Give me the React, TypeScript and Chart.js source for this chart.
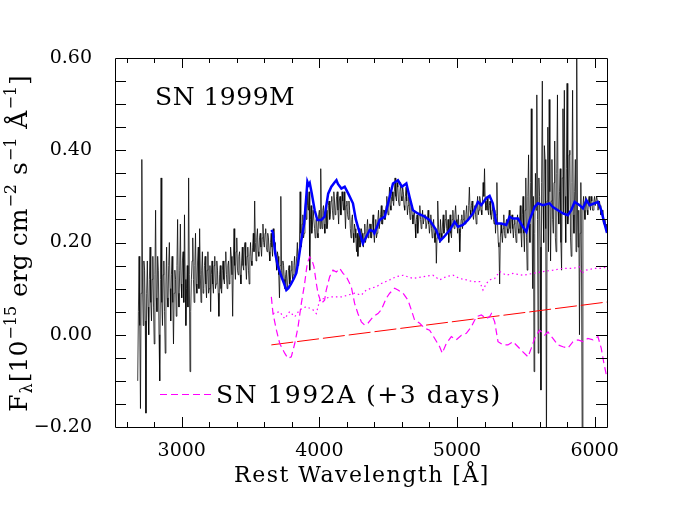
import React, { useEffect, useRef } from "react";
import { Chart, registerables } from "chart.js";

Chart.register(...registerables);

// ---------- axis settings ----------
const xMin = 2515;
const xMax = 6090;
const yMin = -0.2;
const yMax = 0.6;
const xTickValues = [3000, 4000, 5000, 6000];
const yTickValues = [-0.2, 0, 0.2, 0.4, 0.6];

// ---------- SN 1999M observed spectrum (5 Å grid) ----------
const sn1999mStart = 2680;
const sn1999mStep = 5;
const sn1999mFlux = [
  -0.10, 0.05, 0.17, 0.02, -0.16, 0.09, 0.38, 0.11, 0.02, 0.16, 0.14, 0.03, -0.17, 0.09, 0.16, 0.06, 0.0, 0.12, 0.19, 0.07,
  0.03, 0.12, 0.17, 0.06, -0.02, 0.13, 0.27, 0.08, 0.05, 0.17, 0.14, 0.0, -0.10, 0.12, 0.34, 0.07, 0.02, 0.13, 0.16, 0.05,
  -0.04, 0.11, 0.19, 0.08, 0.06, 0.15, 0.20, 0.10, 0.03, 0.13, 0.17, 0.07, -0.02, 0.09, 0.14, 0.12, 0.04, 0.15, 0.25, 0.09,
  0.06, 0.14, 0.24, 0.11, 0.08, 0.16, 0.18, 0.07, 0.26, 0.12, 0.02, 0.10, 0.15, 0.06, 0.34, 0.13, -0.08, 0.05, 0.12, 0.16,
  0.21, 0.12, 0.07, 0.15, 0.22, 0.11, 0.09, 0.16, 0.19, 0.10, 0.23, 0.13, 0.07, 0.14, 0.18, 0.09, 0.10, 0.15, 0.17, 0.11,
  0.08, 0.14, 0.18, 0.09, 0.10, 0.15, 0.05, 0.13, 0.16, 0.11, 0.09, 0.15, 0.17, 0.10, 0.11, 0.16, 0.14, 0.09, 0.04, 0.13,
  0.15, 0.10, 0.09, 0.14, 0.16, 0.12, 0.11, 0.16, 0.18, 0.13, 0.10, 0.15, 0.16, 0.11, 0.12, 0.19, 0.17, 0.13, 0.04, 0.16,
  0.23, 0.15, 0.12, 0.18, 0.21, 0.14, 0.13, 0.17, 0.18, 0.13, 0.11, 0.16, 0.19, 0.15, 0.14, 0.19, 0.20, 0.15, 0.12, 0.17,
  0.19, 0.14, 0.11, 0.17, 0.20, 0.16, 0.15, 0.19, 0.22, 0.18, 0.29, 0.20, 0.16, 0.21, 0.23, 0.18, 0.17, 0.21, 0.22, 0.19,
  0.17, 0.21, 0.24, 0.20, 0.19, 0.22, 0.23, 0.19, 0.18, 0.22, 0.21, 0.18, 0.16, 0.20, 0.22, 0.19, 0.17, 0.23, 0.21, 0.18,
  0.20, 0.16, 0.14, 0.18, 0.17, 0.13, 0.08, 0.15, 0.30, 0.14, 0.12, 0.16, 0.15, 0.12, 0.10, 0.13, 0.14, 0.10, 0.11, 0.14,
  0.15, 0.11, 0.12, 0.14, 0.16, 0.12, 0.13, 0.15, 0.17, 0.13, 0.14, 0.17, 0.20, 0.15, 0.16, 0.19, 0.31, 0.22, 0.19, 0.24,
  0.26, 0.21, 0.22, 0.27, 0.29, 0.25, 0.33, 0.28, 0.27, 0.31, 0.14, 0.25, 0.28, 0.22, 0.24, 0.27, 0.27, 0.23, 0.21, 0.25,
  0.25, 0.22, 0.21, 0.26, 0.27, 0.23, 0.36, 0.25, 0.23, 0.27, 0.28, 0.24, 0.22, 0.26, 0.27, 0.23, 0.24, 0.28, 0.29, 0.25,
  0.26, 0.29, 0.30, 0.27, 0.25, 0.31, 0.29, 0.26, 0.27, 0.30, 0.31, 0.27, 0.24, 0.29, 0.30, 0.26, 0.26, 0.31, 0.29, 0.27,
  0.31, 0.27, 0.23, 0.28, 0.29, 0.26, 0.25, 0.29, 0.27, 0.23, 0.21, 0.25, 0.26, 0.22, 0.20, 0.24, 0.23, 0.21, 0.18, 0.22,
  0.17, 0.21, 0.23, 0.19, 0.20, 0.23, 0.22, 0.20, 0.19, 0.22, 0.24, 0.20, 0.21, 0.23, 0.25, 0.21, 0.22, 0.24, 0.24, 0.21,
  0.21, 0.24, 0.26, 0.22, 0.20, 0.23, 0.25, 0.21, 0.22, 0.25, 0.27, 0.23, 0.23, 0.26, 0.28, 0.24, 0.24, 0.27, 0.27, 0.25,
  0.25, 0.28, 0.30, 0.27, 0.26, 0.29, 0.32, 0.28, 0.27, 0.30, 0.31, 0.29, 0.28, 0.31, 0.34, 0.30, 0.29, 0.33, 0.32, 0.29,
  0.28, 0.31, 0.33, 0.30, 0.29, 0.32, 0.31, 0.28, 0.27, 0.30, 0.32, 0.29, 0.26, 0.28, 0.30, 0.27, 0.25, 0.29, 0.28, 0.26,
  0.24, 0.26, 0.27, 0.24, 0.21, 0.25, 0.26, 0.22, 0.24, 0.26, 0.28, 0.25, 0.23, 0.25, 0.27, 0.24, 0.24, 0.26, 0.26, 0.23,
  0.23, 0.25, 0.27, 0.24, 0.22, 0.24, 0.26, 0.23, 0.21, 0.24, 0.25, 0.22, 0.20, 0.23, 0.155, 0.21, 0.29, 0.24, 0.22, 0.20,
  0.25, 0.22, 0.21, 0.24, 0.26, 0.22, 0.23, 0.25, 0.27, 0.23, 0.22, 0.25, 0.20, 0.23, 0.26, 0.22, 0.21, 0.25, 0.27, 0.24,
  0.23, 0.26, 0.28, 0.25, 0.24, 0.22, 0.26, 0.23, 0.18, 0.22, 0.25, 0.26, 0.23, 0.25, 0.27, 0.24, 0.24, 0.26, 0.28, 0.25,
  0.25, 0.28, 0.32, 0.27, 0.26, 0.28, 0.29, 0.26, 0.25, 0.27, 0.28, 0.26, 0.24, 0.28, 0.30, 0.26, 0.27, 0.30, 0.29, 0.27,
  0.26, 0.29, 0.33, 0.30, 0.36, 0.29, 0.27, 0.28, 0.30, 0.27, 0.26, 0.28, 0.29, 0.26, 0.25, 0.27, 0.28, 0.25, 0.24, 0.27,
  0.22, 0.26, 0.33, 0.24, 0.20, 0.19, 0.11, 0.21, 0.24, 0.22, 0.20, 0.23, 0.26, 0.22, 0.21, 0.24, 0.25, 0.23, 0.22, 0.25,
  0.27, 0.23, 0.22, 0.25, 0.26, 0.23, 0.21, 0.24, 0.25, 0.22, 0.20, 0.24, 0.26, 0.23, 0.22, 0.25, 0.28, 0.22, 0.19, 0.26,
  0.30, 0.22, 0.18, 0.27, 0.34, 0.21, 0.14, 0.30, 0.39, 0.24, 0.20, 0.33, 0.49, 0.26, 0.10, 0.30, -0.08, 0.22, 0.35, 0.27,
  0.52, 0.25, -0.04, 0.34, 0.30, 0.19, -0.12, 0.33, 0.55, 0.28, 0.20, 0.41, 0.38, 0.23, -0.25, 0.29, 0.45, 0.18, 0.51, 0.31,
  0.16, 0.29, 0.38, 0.25, 0.22, 0.33, 0.42, 0.21, 0.18, 0.35, 0.52, 0.27, 0.24, 0.31, 0.36, 0.20, 0.14, 0.34, 0.49, 0.26,
  0.53, 0.30, 0.20, 0.36, 0.545, 0.24, 0.26, 0.39, 0.40, 0.21, 0.17, 0.33, 0.53, 0.26, 0.22, 0.31, 0.38, 0.18, 0.62, 0.28,
  0.19, 0.27, 0.0, 0.22, 0.33, 0.14, -0.25, 0.28, 0.30, 0.27, 0.25, 0.30, 0.29, 0.27, 0.26, 0.29, 0.30, 0.28, 0.27, 0.30,
  0.29, 0.27, 0.27, 0.29, 0.30, 0.28, 0.28, 0.30, 0.29, 0.27, 0.27, 0.29, 0.28, 0.26, 0.26, 0.27, 0.25, 0.24, 0.24, 0.25,
  0.23, 0.24, 0.22,
];

// ---------- smoothed SN 1999M (blue) ----------
const smoothWave = [
  3651, 3662, 3680, 3700, 3722, 3745, 3760, 3775, 3795, 3815, 3833, 3850, 3869, 3890, 3905, 3913,
  3922, 3930, 3945, 3957, 3966, 3985, 4014, 4038, 4064, 4087, 4110, 4124, 4135, 4160, 4184, 4210,
  4244, 4265, 4280, 4316, 4340, 4366, 4390, 4400, 4420, 4438, 4475, 4511, 4535, 4571, 4600, 4632,
  4655, 4680, 4715, 4765, 4800, 4849, 4878, 4905, 4947, 4983, 5007, 5043, 5080, 5116, 5152, 5176,
  5212, 5237, 5260, 5286, 5322, 5358, 5382, 5406, 5443, 5479, 5504, 5528, 5564, 5588, 5624, 5673,
  5697, 5733, 5770, 5806, 5830, 5855, 5891, 5915, 5940, 5964, 6000, 6024, 6048, 6072, 6090,
];
const smoothFlux = [
  0.227, 0.222, 0.175, 0.147, 0.128, 0.110, 0.097, 0.101, 0.111, 0.122, 0.134, 0.165, 0.205, 0.242, 0.300, 0.332,
  0.325, 0.329, 0.306, 0.285, 0.270, 0.249, 0.249, 0.256, 0.306, 0.321, 0.330, 0.335, 0.327, 0.317, 0.321, 0.306,
  0.285, 0.250, 0.234, 0.198, 0.212, 0.227, 0.225, 0.220, 0.235, 0.249, 0.256, 0.299, 0.328, 0.335, 0.321, 0.328,
  0.299, 0.270, 0.263, 0.256, 0.249, 0.227, 0.204, 0.212, 0.227, 0.245, 0.234, 0.238, 0.249, 0.263, 0.288, 0.281,
  0.296, 0.301, 0.285, 0.241, 0.241, 0.238, 0.256, 0.252, 0.252, 0.234, 0.223, 0.249, 0.277, 0.285, 0.281, 0.285,
  0.277, 0.270, 0.263, 0.259, 0.270, 0.288, 0.281, 0.274, 0.292, 0.281, 0.285, 0.288, 0.270, 0.241, 0.221,
];

// ---------- SN 1992A (+3 days), magenta dashed ----------
const sn1992aWave = [
  3651, 3663, 3688, 3712, 3748, 3772, 3796, 3821, 3845, 3869, 3893, 3912, 3930, 3946, 3961, 3978,
  3990, 4014, 4038, 4050, 4075, 4099, 4124, 4148, 4172, 4196, 4232, 4256, 4280, 4305, 4329, 4353,
  4390, 4426, 4450, 4486, 4511, 4547, 4571, 4608, 4644, 4668, 4692, 4729, 4765, 4801, 4838, 4874,
  4893, 4922, 4959, 4995, 5032, 5068, 5104, 5141, 5177, 5213, 5237, 5250, 5274, 5298, 5334, 5370,
  5407, 5443, 5479, 5516, 5540, 5564, 5600, 5637, 5661, 5697, 5733, 5770, 5806, 5843, 5879, 5915,
  5951, 5988, 6024, 6048, 6065, 6085,
];
const sn1992aFlux = [
  0.082, 0.046, 0.010, -0.019, -0.040, -0.051, -0.048, -0.019, 0.017, 0.068, 0.111, 0.155, 0.169, 0.162, 0.147, 0.111,
  0.090, 0.068, 0.075, 0.097, 0.126, 0.140, 0.136, 0.144, 0.133, 0.126, 0.104, 0.068, 0.046, 0.028, 0.021, 0.025,
  0.039, 0.046, 0.054, 0.079, 0.090, 0.101, 0.097, 0.090, 0.075, 0.054, 0.032, 0.025, 0.014, 0.010, -0.008, -0.026,
  -0.040, -0.019, -0.004, -0.011, -0.001, 0.003, 0.017, 0.039, 0.043, 0.035, 0.039, 0.046, 0.028, -0.015, -0.022, -0.022,
  -0.015, -0.026, -0.037, -0.048, -0.029, -0.008, 0.010, -0.001, 0.006, -0.008, -0.022, -0.026, -0.029, -0.015, -0.011, -0.015,
  -0.008, -0.011, -0.004, -0.029, -0.058, -0.087,
];

// ---------- magenta dotted comparison ----------
const dottedWave = [
  3663, 3712, 3748, 3784, 3821, 3857, 3905, 3954, 3978, 4002, 4038, 4087, 4160, 4208, 4256, 4305,
  4341, 4378, 4414, 4450, 4511, 4559, 4608, 4680, 4753, 4825, 4874, 4922, 4971, 5019, 5068, 5116,
  5165, 5189, 5213, 5237, 5274, 5310, 5358, 5407, 5479, 5552, 5624, 5697, 5770, 5843, 5891, 5903,
  5940, 6000, 6048, 6090,
];
const dottedFlux = [
  0.046, 0.050, 0.035, 0.050, 0.039, 0.054, 0.061, 0.054, 0.046, 0.075, 0.079, 0.082, 0.082, 0.086, 0.090, 0.086,
  0.097, 0.101, 0.104, 0.111, 0.119, 0.126, 0.129, 0.122, 0.126, 0.129, 0.119, 0.126, 0.129, 0.122, 0.119, 0.115,
  0.115, 0.097, 0.111, 0.119, 0.122, 0.137, 0.129, 0.133, 0.129, 0.133, 0.137, 0.140, 0.144, 0.144, 0.147, 0.133,
  0.140, 0.144, 0.144, 0.147,
];

// ---------- red long-dashed line ----------
const redWave = [3651, 6090];
const redFlux = [-0.022, 0.071];

const pairs = (xs: number[], ys: number[]) => xs.map((x, i) => ({ x, y: ys[i] }));

const FONT = "'DejaVu Serif', 'Liberation Serif', serif";

const framePlugin = {
  id: "frameAndText",
  afterDraw(chart: any) {
    const { ctx, chartArea: a, scales } = chart;
    const xs = scales.x;
    const ys = scales.y;
    ctx.save();
    ctx.strokeStyle = "#000";
    ctx.lineWidth = 1;
    // frame
    ctx.beginPath();
    ctx.rect(Math.round(a.left) + 0.5, Math.round(a.top) + 0.5, Math.round(a.right - a.left), Math.round(a.bottom - a.top));
    ctx.stroke();
    // x ticks (inside, bottom & top)
    ctx.beginPath();
    for (let v = 2600; v <= 6000; v += 200) {
      const px = Math.round(xs.getPixelForValue(v)) + 0.5;
      const len = v % 1000 === 0 ? 10 : 5;
      ctx.moveTo(px, a.bottom);
      ctx.lineTo(px, a.bottom - len);
      ctx.moveTo(px, a.top);
      ctx.lineTo(px, a.top + len);
    }
    // y ticks (inside, left & right)
    for (let k = -3; k <= 11; k++) {
      const py = Math.round(ys.getPixelForValue(k * 0.05)) + 0.5;
      const len = 11;
      ctx.moveTo(a.left, py);
      ctx.lineTo(a.left + len, py);
      ctx.moveTo(a.right, py);
      ctx.lineTo(a.right - len, py);
    }
    ctx.stroke();

    ctx.fillStyle = "#000";
    ctx.textBaseline = "alphabetic";
    ctx.textAlign = "left";
    // object label
    ctx.font = `25px ${FONT}`;
    (ctx as any).letterSpacing = "0.5px";
    ctx.fillText("SN 1999M", 155, 105);

    // legend
    ctx.save();
    ctx.strokeStyle = "#ff00ff";
    ctx.lineWidth = 1;
    ctx.setLineDash([7, 4]);
    ctx.beginPath();
    ctx.moveTo(160, 394.5);
    ctx.lineTo(211, 394.5);
    ctx.stroke();
    ctx.restore();
    ctx.font = `25px ${FONT}`;
    (ctx as any).letterSpacing = "1.5px";
    ctx.fillText("SN 1992A (+3 days)", 216, 403);

    // x title
    ctx.font = `22px ${FONT}`;
    (ctx as any).letterSpacing = "1.5px";
    ctx.textAlign = "center";
    ctx.fillText("Rest Wavelength [Å]", 362, 482);
    (ctx as any).letterSpacing = "0px";

    // y title (rotated rich text)
    const main = 25;
    const small = 16;
    const pieces: { t: string; size: number; dy: number }[] = [
      { t: "F", size: main, dy: 0 },
      { t: "λ", size: small, dy: 5 },
      { t: "[10", size: main, dy: 0 },
      { t: "−15", size: small, dy: -11 },
      { t: " erg cm", size: main, dy: 0 },
      { t: "−2", size: small, dy: -11 },
      { t: " s", size: main, dy: 0 },
      { t: "−1", size: small, dy: -11 },
      { t: " Å", size: main, dy: 0 },
      { t: "−1", size: small, dy: -11 },
      { t: "]", size: main, dy: 0 },
    ];
    ctx.textAlign = "left";
    let total = 0;
    const widths = pieces.map((p) => {
      ctx.font = `${p.size}px ${FONT}`;
      const w = ctx.measureText(p.t).width + 1;
      total += w;
      return w;
    });
    ctx.save();
    ctx.translate(27, 243);
    ctx.rotate(-Math.PI / 2);
    let cx = -total / 2;
    pieces.forEach((p, i) => {
      ctx.font = `${p.size}px ${FONT}`;
      ctx.fillText(p.t, cx, p.dy);
      cx += widths[i];
    });
    ctx.restore();
    ctx.restore();
  },
};

export default function App() {
  const ref = useRef<HTMLCanvasElement | null>(null);
  useEffect(() => {
    const canvas = ref.current;
    if (!canvas) return;
    const chart = new Chart(canvas, {
      type: "line",
      data: {
        datasets: [
          {
            label: "SN 1999M",
            data: sn1999mFlux.map((v, i) => ({ x: sn1999mStart + i * sn1999mStep, y: v })),
            borderColor: "rgba(0,0,0,0.85)",
            borderWidth: 0.9,
            pointRadius: 0,
            order: 5,
          },
          {
            label: "smoothed",
            data: pairs(smoothWave, smoothFlux),
            borderColor: "#0000ff",
            borderWidth: 2.5,
            pointRadius: 0,
            order: 0,
          },
          {
            label: "SN 1992A (+3 days)",
            data: pairs(sn1992aWave, sn1992aFlux),
            borderColor: "#ff00ff",
            borderWidth: 1.2,
            borderDash: [7, 4],
            pointRadius: 0,
            order: 1,
          },
          {
            label: "dotted",
            data: pairs(dottedWave, dottedFlux),
            borderColor: "#ff00ff",
            borderWidth: 1.2,
            borderDash: [1.5, 3],
            pointRadius: 0,
            order: 2,
          },
          {
            label: "continuum",
            data: pairs(redWave, redFlux),
            borderColor: "#ff0000",
            borderWidth: 1,
            borderDash: [22, 4],
            pointRadius: 0,
            order: 3,
          },
        ],
      },
      options: {
        animation: false,
        responsive: false,
        devicePixelRatio: 1,
        layout: { padding: { left: 0, top: 58, right: 87, bottom: 0 } },
        plugins: { legend: { display: false }, tooltip: { enabled: false } },
        elements: { line: { tension: 0, fill: false }, point: { radius: 0 } },
        scales: {
          x: {
            type: "linear",
            min: xMin,
            max: xMax,
            grid: { display: false },
            border: { display: false },
            afterFit: (s: any) => {
              s.height = 91;
            },
            afterBuildTicks: (s: any) => {
              s.ticks = xTickValues.map((v) => ({ value: v }));
            },
            ticks: {
              font: { family: FONT, size: 19 },
              color: "#000",
              padding: 5,
              maxRotation: 0,
              autoSkip: false,
              callback: (v: any) => String(v),
            },
          },
          y: {
            type: "linear",
            min: yMin,
            max: yMax,
            grid: { display: false },
            border: { display: false },
            afterFit: (s: any) => {
              s.width = 115;
            },
            afterBuildTicks: (s: any) => {
              s.ticks = yTickValues.map((v) => ({ value: v }));
            },
            ticks: {
              font: { family: FONT, size: 19 },
              color: "#000",
              padding: 15,
              autoSkip: false,
              callback: (v: any) => (v < -1e-9 ? "−" : "") + Math.abs(Number(v)).toFixed(2),
            },
          },
        },
      },
      plugins: [framePlugin],
    } as any);
    return () => chart.destroy();
  }, []);
  return (
    <div style={{ position: "fixed", left: 0, top: 0, width: 694, height: 518, background: "#fff" }}>
      <canvas ref={ref} width={694} height={518} style={{ display: "block", width: 694, height: 518 }} />
    </div>
  );
}
